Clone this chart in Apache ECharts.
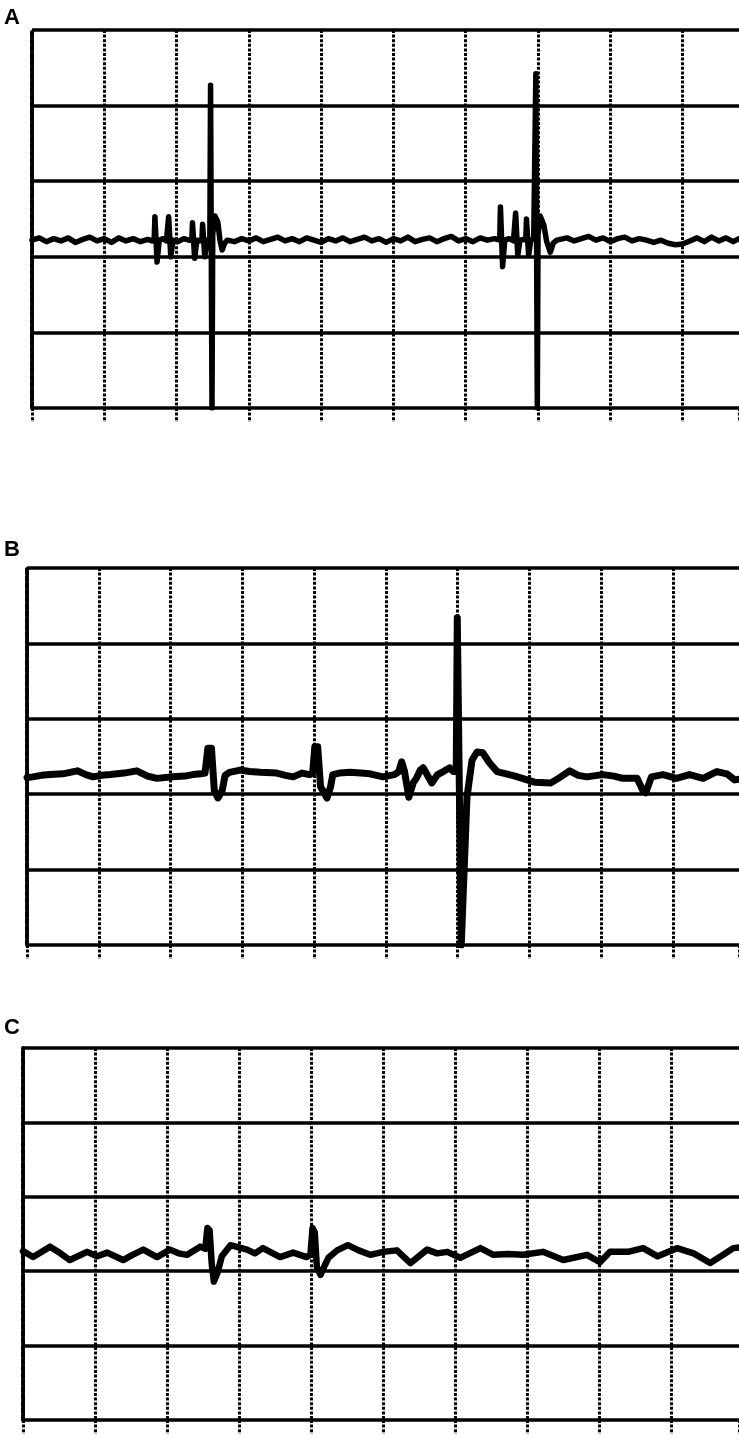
<!DOCTYPE html>
<html>

<head>
    <meta charset="utf-8">
    <title>ECG strips A B C</title>
    <script src="https://cdn.jsdelivr.net/npm/echarts@6/dist/echarts.min.js"></script>
    <style>
        body { margin: 0; background: #fff; }
    </style>
</head>

<body>
    <div id="main" style="width: 739px;height:1447px;"></div>
    <script type="text/javascript">
        // panel labels
        var panelNames = ['A', 'B', 'C'];

        // x = large grid divisions, y = large grid divisions (0 = bottom line)
        var traceA = [
            [0, 2.22], [0.1, 2.25], [0.2, 2.20], [0.3, 2.24], [0.4, 2.21], [0.5, 2.25], [0.6, 2.19], [0.7, 2.23],
            [0.8, 2.26], [0.9, 2.21], [1.0, 2.24], [1.1, 2.19], [1.2, 2.25], [1.3, 2.21], [1.4, 2.24], [1.5, 2.20],
            [1.6, 2.23], [1.66, 2.21],
            [1.69, 2.22], [1.70, 2.53], [1.72, 2.53], [1.73, 1.93], [1.75, 1.93], [1.76, 2.22], [1.81, 2.24], [1.86, 2.21],
            [1.88, 2.22], [1.89, 2.53], [1.91, 2.53], [1.92, 2.00], [1.94, 2.00], [1.95, 2.22], [2.02, 2.20], [2.10, 2.24], [2.17, 2.22],
            [2.21, 2.22], [2.22, 2.45], [2.24, 2.45], [2.25, 1.98], [2.27, 1.98], [2.28, 2.22], [2.32, 2.21],
            [2.35, 2.22], [2.36, 2.43], [2.38, 2.43], [2.39, 2.00], [2.41, 2.00], [2.42, 2.22], [2.44, 2.23],
            [2.46, 2.22], [2.47, 4.27], [2.48, 4.27], [2.49, 0], [2.50, 2.30], [2.53, 2.54], [2.57, 2.46], [2.60, 2.22],
            [2.63, 2.09], [2.66, 2.17], [2.70, 2.22],
            [2.8, 2.20], [2.9, 2.24], [3.0, 2.21], [3.1, 2.25], [3.2, 2.20], [3.3, 2.23], [3.4, 2.26], [3.5, 2.21],
            [3.6, 2.24], [3.7, 2.20], [3.8, 2.25], [3.9, 2.22], [4.0, 2.19], [4.1, 2.24], [4.2, 2.21], [4.3, 2.25],
            [4.4, 2.20], [4.5, 2.23], [4.6, 2.26], [4.7, 2.21], [4.8, 2.24], [4.9, 2.19], [5.0, 2.24], [5.1, 2.21],
            [5.2, 2.26], [5.3, 2.20], [5.4, 2.23], [5.5, 2.25], [5.6, 2.20], [5.7, 2.24], [5.8, 2.27], [5.9, 2.21],
            [6.0, 2.24], [6.1, 2.20], [6.2, 2.25], [6.3, 2.22], [6.4, 2.24],
            [6.47, 2.22], [6.48, 2.66], [6.50, 2.66], [6.51, 1.87], [6.53, 1.87], [6.54, 2.22], [6.60, 2.24], [6.66, 2.21],
            [6.68, 2.22], [6.69, 2.58], [6.71, 2.58], [6.72, 2.02], [6.74, 2.02], [6.75, 2.22], [6.80, 2.23],
            [6.83, 2.22], [6.84, 2.50], [6.86, 2.50], [6.87, 2.02], [6.89, 2.02], [6.90, 2.22], [6.94, 2.24],
            [6.96, 2.24], [6.97, 4.42], [6.98, 4.42], [6.99, 0], [7.00, 2.30], [7.03, 2.54], [7.08, 2.42], [7.12, 2.20],
            [7.17, 2.06], [7.21, 2.18], [7.26, 2.22],
            [7.4, 2.25], [7.5, 2.21], [7.6, 2.24], [7.7, 2.27], [7.8, 2.22], [7.9, 2.25], [8.0, 2.20], [8.1, 2.24],
            [8.2, 2.26], [8.3, 2.21], [8.4, 2.24], [8.5, 2.22], [8.6, 2.19], [8.7, 2.22], [8.8, 2.18], [8.9, 2.16],
            [9.0, 2.17], [9.1, 2.21], [9.2, 2.25], [9.3, 2.20], [9.4, 2.26], [9.5, 2.21], [9.6, 2.25], [9.7, 2.20], [9.78, 2.24]
        ];

        var traceB = [
            [0, 2.22], [0.08, 2.23], [0.2, 2.25], [0.32, 2.26], [0.5, 2.27], [0.70, 2.31], [0.82, 2.26], [0.92, 2.23],
            [1.04, 2.25], [1.16, 2.26], [1.35, 2.28], [1.53, 2.31], [1.68, 2.24], [1.81, 2.21], [2.03, 2.23], [2.2, 2.24],
            [2.31, 2.26], [2.42, 2.27], [2.48, 2.28], [2.52, 2.61], [2.57, 2.61], [2.61, 2.05], [2.66, 1.95], [2.72, 2.05],
            [2.76, 2.25], [2.82, 2.29], [2.97, 2.32], [3.10, 2.30], [3.25, 2.29], [3.48, 2.28], [3.60, 2.25], [3.71, 2.23],
            [3.83, 2.28], [3.94, 2.26], [3.98, 2.28], [4.01, 2.63], [4.05, 2.63], [4.09, 2.10], [4.18, 1.95], [4.23, 2.10],
            [4.26, 2.26], [4.35, 2.28], [4.50, 2.29], [4.65, 2.28], [4.78, 2.27], [4.96, 2.23], [5.12, 2.26], [5.18, 2.30],
            [5.22, 2.43], [5.26, 2.30], [5.32, 1.96], [5.38, 2.15], [5.43, 2.22], [5.48, 2.32], [5.52, 2.35], [5.58, 2.25],
            [5.64, 2.15], [5.72, 2.26], [5.80, 2.30], [5.89, 2.35], [5.94, 2.30], [5.98, 2.30], [5.995, 4.34], [6.015, 4.34],
            [6.05, 0], [6.13, 1.96], [6.20, 2.45], [6.27, 2.56], [6.35, 2.55], [6.44, 2.42], [6.55, 2.30], [6.80, 2.24],
            [7.07, 2.16], [7.30, 2.15], [7.42, 2.22], [7.56, 2.31], [7.68, 2.25], [7.80, 2.23], [8.02, 2.26], [8.18, 2.24],
            [8.30, 2.21], [8.50, 2.21], [8.58, 2.05], [8.62, 2.02], [8.70, 2.23], [8.86, 2.26], [9.05, 2.21], [9.23, 2.26],
            [9.42, 2.21], [9.61, 2.30], [9.75, 2.27], [9.86, 2.19], [9.92, 2.20]
        ];

        var traceC = [
            [0, 2.27], [0.14, 2.19], [0.375, 2.33], [0.52, 2.24], [0.65, 2.15], [0.89, 2.26], [1.03, 2.20], [1.17, 2.25],
            [1.39, 2.15], [1.52, 2.22], [1.67, 2.29], [1.86, 2.19], [2.04, 2.29], [2.16, 2.24], [2.28, 2.22], [2.46, 2.33],
            [2.53, 2.30], [2.56, 2.58], [2.59, 2.55], [2.62, 2.10], [2.65, 1.86], [2.70, 1.98], [2.76, 2.20], [2.88, 2.35],
            [3.11, 2.29], [3.22, 2.24], [3.33, 2.31], [3.57, 2.19], [3.75, 2.25], [3.94, 2.19], [3.99, 2.22], [4.02, 2.58],
            [4.05, 2.52], [4.08, 2.05], [4.13, 1.95], [4.19, 2.08], [4.24, 2.18], [4.36, 2.28], [4.51, 2.35], [4.66, 2.28],
            [4.82, 2.22], [5.00, 2.26], [5.19, 2.28], [5.38, 2.11], [5.61, 2.29], [5.75, 2.24], [5.89, 2.26], [6.07, 2.18],
            [6.35, 2.31], [6.53, 2.22], [6.74, 2.23], [6.94, 2.22], [7.22, 2.26], [7.50, 2.15], [7.83, 2.22], [8.01, 2.12],
            [8.15, 2.26], [8.40, 2.26], [8.61, 2.31], [8.81, 2.20], [9.08, 2.31], [9.31, 2.24], [9.54, 2.11], [9.72, 2.22],
            [9.86, 2.31], [9.94, 2.32]
        ];

        var traces = [traceA, traceB, traceC];
        var xMax = [9.78, 9.92, 9.94];
        var traceWidth = [5.5, 7, 6.5];

        var grids = [
            { left: 32, top: 30, width: 707, height: 378 },
            { left: 27, top: 568, width: 712, height: 377 },
            { left: 23, top: 1048, width: 716, height: 372 }
        ];
        var labelTops = [7, 539, 1017];

        var dotted = { color: '#000', width: 3, type: [3, 1.6] };

        var myChart = echarts.init(document.getElementById('main'));

        var option = {
            backgroundColor: '#fff',
            animation: false,
            title: panelNames.map(function (n, i) {
                return {
                    text: n,
                    left: 4,
                    top: labelTops[i],
                    padding: 0,
                    textStyle: {
                        fontFamily: 'Liberation Sans, Arial, sans-serif',
                        fontWeight: 'bold',
                        fontSize: 22,
                        color: '#000'
                    }
                };
            }),
            grid: grids,
            xAxis: grids.map(function (g, i) {
                return {
                    type: 'value',
                    gridIndex: i,
                    min: 0,
                    max: xMax[i],
                    interval: 1,
                    axisLine: { show: false },
                    axisLabel: { show: false },
                    axisTick: { show: true, length: 14, lineStyle: dotted },
                    splitLine: { show: true, showMaxLine: false, lineStyle: dotted }
                };
            }),
            yAxis: grids.map(function (g, i) {
                return {
                    type: 'value',
                    gridIndex: i,
                    min: 0,
                    max: 5,
                    interval: 1,
                    axisLine: { show: true, lineStyle: { color: '#000', width: 4, type: [5, 2] } },
                    axisTick: { show: false },
                    axisLabel: { show: false },
                    splitLine: { show: true, lineStyle: { color: '#000', width: 3.5, type: 'solid' } }
                };
            }),
            series: traces.map(function (d, i) {
                return {
                    type: 'line',
                    xAxisIndex: i,
                    yAxisIndex: i,
                    data: d,
                    showSymbol: false,
                    symbol: 'none',
                    lineStyle: { color: '#000', width: traceWidth[i], join: 'round', cap: 'round' },
                    z: 5
                };
            })
        };

        myChart.setOption(option);
    </script>
</body>

</html>
